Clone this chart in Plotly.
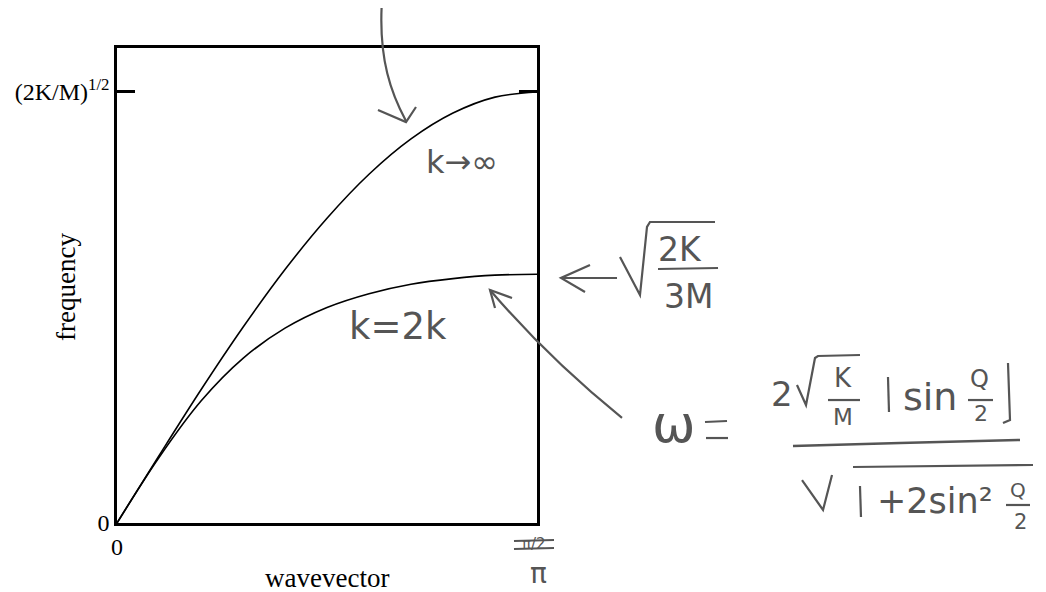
import plotly.graph_objects as go

# wavevector (0 .. zone edge) and the two dispersion curves, in units of (2K/M)^1/2
wavevector = [0, 0.1, 0.2, 0.3, 0.4, 0.5, 0.6, 0.7, 0.8, 0.9, 1.0]
freq_k_inf = [0, 0.156, 0.309, 0.454, 0.588, 0.707, 0.809, 0.891, 0.951, 0.988, 1.0]
freq_k_2k = [0, 0.152, 0.283, 0.382, 0.452, 0.50, 0.532, 0.554, 0.567, 0.575, 0.577]

ytick_vals = [0, 1]
ytick_text = ["0", "(2K/M)<sup>1/2</sup>"]

W, H = 1046, 592
L, R, T, B = 117, 537, 48, 523
PAGE = 8  # default body margin of the html page
PENCIL = "#555555"
HAND = "DejaVu Sans"


def px(x):
    return (x - L) / (R - L)


def py(y):
    return (B - y) / (B - T)


def poly(*pts):
    # polyline in page pixels -> svg path in paper coords
    return "M" + " L".join(f"{px(x):.4f},{py(y):.4f}" for x, y in pts)


def curve(p0, c, p1):
    return (f"M{px(p0[0]):.4f},{py(p0[1]):.4f} Q{px(c[0]):.4f},{py(c[1]):.4f} "
            f"{px(p1[0]):.4f},{py(p1[1]):.4f}")


fig = go.Figure()
fig.add_trace(go.Scatter(x=wavevector, y=freq_k_inf, mode="lines", line_shape="spline",
                         line=dict(color="black", width=1.6), showlegend=False))
fig.add_trace(go.Scatter(x=wavevector, y=freq_k_2k, mode="lines", line_shape="spline",
                         line=dict(color="black", width=1.6), showlegend=False))

serif = dict(family="Liberation Serif", size=24, color="black")

fig.update_layout(
    width=W - PAGE, height=H - PAGE,
    margin=dict(l=L - PAGE, r=W - R, t=T - PAGE, b=H - B),
    plot_bgcolor="white", paper_bgcolor="white",
    font=serif,
    xaxis=dict(range=[0, 1], showgrid=False, zeroline=False, showline=True, linecolor="black",
               linewidth=2.5, mirror=True, tickvals=[0], ticktext=["0"], ticks="", tickfont=serif,
               automargin=False),
    yaxis=dict(range=[0, 1.102], showgrid=False, zeroline=False, showline=True, linecolor="black",
               linewidth=2.5, mirror="ticks", tickvals=ytick_vals, ticktext=ytick_text,
               ticks="inside", ticklen=18, tickwidth=2.5, tickcolor="black", tickfont=serif,
               automargin=False),
)

shapes = []


def pencil(d, width=2.2):
    shapes.append(dict(type="path", xref="paper", yref="paper", path=d,
                       line=dict(color=PENCIL, width=width)))


# curved arrow from the top to the upper curve
pencil(f"M{px(382):.4f},{py(0):.4f} C{px(378):.4f},{py(60):.4f} {px(392):.4f},{py(95):.4f} "
       f"{px(406):.4f},{py(121):.4f}")
pencil(poly((378, 110), (406, 122), (416, 107)))

# arrow from the formula to the lower curve
pencil(curve((622, 418), (548, 358), (490, 290)))
pencil(poly((495, 308), (490, 290), (512, 298)))

# sqrt(2K/3M) with its arrow
pencil(poly((617, 278), (562, 278)))
pencil(poly((590, 265), (561, 278), (585, 292)))
pencil(poly((620, 257), (640, 295), (647, 227), (650, 222), (715, 222)))
pencil(poly((658, 269), (718, 268)))

# omega =
pencil(poly((705, 422), (727, 421)))
pencil(poly((706, 438), (728, 438)))

# numerator 2 sqrt(K/M) |sin Q/2|
pencil(poly((797, 385), (806, 405), (815, 358), (818, 356), (860, 355)))
pencil(poly((828, 400), (860, 400)))
pencil(poly((888, 377), (889, 412)))
pencil(poly((968, 400), (993, 400)))
pencil(poly((1008, 363), (1010, 420), (1003, 423)))

# main fraction bar
pencil(poly((793, 446), (900, 443), (1020, 440)), width=2.5)

# denominator sqrt(1 + 2 sin^2 Q/2)
pencil(poly((802, 480), (823, 510), (832, 475)))
pencil(poly((853, 467), (1033, 465)))
pencil(poly((860, 486), (861, 517)))
pencil(poly((1006, 505), (1030, 505)))

# crossed-out pi/2 at the zone edge
pencil(poly((514, 541), (554, 540)))
pencil(poly((514, 549), (554, 548)))

fig.update_layout(shapes=shapes)


def note(x, y, text, size=24, color=PENCIL, family=HAND, angle=0):
    fig.add_annotation(x=px(x), y=py(y), xref="paper", yref="paper", text=text, showarrow=False,
                       xanchor="center", yanchor="middle", textangle=angle,
                       font=dict(family=family, size=size, color=color))


# axis titles
note(327, 578, "wavevector", 27, "black", "Liberation Serif")
note(66, 287, "frequency", 27, "black", "Liberation Serif", -90)

# handwritten notes
note(462, 162, "k→∞", 32)
note(398, 326, "k=2k", 37)
note(680, 250, "2K", 33)
note(688, 296, "3M", 33)
note(674, 424, "ω", 52)
note(782, 394, "2", 34)
note(843, 378, "K", 26)
note(843, 417, "M", 23)
note(930, 397, "sin", 38)
note(980, 379, "Q", 24)
note(981, 413, "2", 22)
note(935, 501, "+2sin²", 35)
note(1018, 490, "Q", 20)
note(1020, 522, "2", 21)
note(534, 544, "π/2", 15)
note(538, 573, "π", 28)

fig.write_html("out.html")
